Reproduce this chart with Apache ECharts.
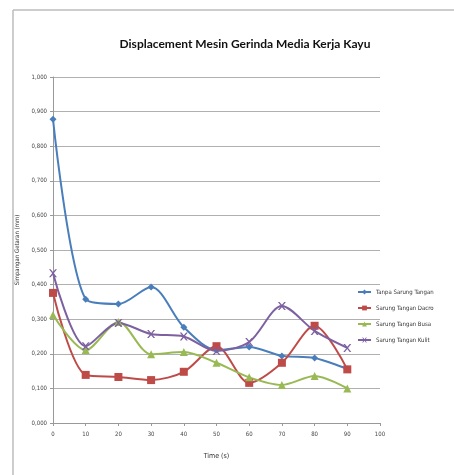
<!DOCTYPE html>
<html>
<head>
<meta charset="utf-8">
<script src="https://cdn.jsdelivr.net/npm/echarts@6/dist/echarts.min.js"></script>
<style>
  html, body { margin: 0; padding: 0; background: #fff; overflow: hidden; }
  #chart { width: 454px; height: 475px; }
</style>
</head>
<body>
<div id="chart"></div>
<script>
const timeSeconds = [0, 10, 20, 30, 40, 50, 60, 70, 80, 90];
const tanpaSarung = [0.878, 0.358, 0.344, 0.393, 0.277, 0.211, 0.220, 0.194, 0.188, 0.156];
const sarungDacron = [0.376, 0.139, 0.133, 0.124, 0.148, 0.222, 0.116, 0.174, 0.281, 0.155];
const sarungBusa = [0.312, 0.211, 0.292, 0.199, 0.205, 0.174, 0.132, 0.110, 0.136, 0.100];
const sarungKulit = [0.433, 0.222, 0.289, 0.257, 0.250, 0.208, 0.234, 0.338, 0.266, 0.217];
const seriesNames = ["Tanpa Sarung Tangan", "Sarung Tangan Dacro", "Sarung Tangan Busa", "Sarung Tangan Kulit"];

const chart = echarts.init(document.getElementById("chart"));
const xMark = "path://M0,0L2,0L5,3.5L8,0L10,0L6,5L10,10L8,10L5,6.5L2,10L0,10L4,5Z";
const font = "'Liberation Sans Narrow', 'DejaVu Sans Condensed', sans-serif";

function pairs(values) {
  return values.map((v, i) => [timeSeconds[i], v]);
}

function makeSeries(name, values, color, symbol, size) {
  return {
    name,
    type: "line",
    data: pairs(values),
    smooth: 0.3,
    symbol,
    symbolSize: size,
    showSymbol: true,
    lineStyle: { color, width: 2 },
    itemStyle: { color },
  };
}

// chart frame: only top and left edges are visible in the crop
const frameStyle = { stroke: "#bdbdbd", lineWidth: 1.5 };

const option = {
  animation: false,
  backgroundColor: "#fff",
  textStyle: { fontFamily: font },
  title: {
    text: "Displacement Mesin Gerinda Media Kerja Kayu",
    left: 240,
    textAlign: "center",
    top: 33,
    textStyle: { fontSize: 12, fontWeight: "bold", color: "#111", fontFamily: "Lato, sans-serif" },
  },
  graphic: [
    { type: "line", shape: { x1: 13, y1: 10, x2: 454, y2: 10 }, style: frameStyle, silent: true },
    { type: "line", shape: { x1: 13, y1: 10, x2: 13, y2: 475 }, style: frameStyle, silent: true },
  ],
  legend: {
    orient: "vertical",
    left: 352,
    top: 284,
    itemGap: 10,
    itemWidth: 13,
    itemHeight: 6,
    data: seriesNames,
    textStyle: { fontSize: 6, color: "#333", fontFamily: font },
  },
  grid: { left: 53, right: 74, top: 77, bottom: 52 },
  xAxis: {
    type: "value",
    min: 0,
    max: 100,
    interval: 10,
    name: "Time (s)",
    nameLocation: "middle",
    nameGap: 30,
    nameTextStyle: { fontSize: 7, color: "#333" },
    axisLine: { lineStyle: { color: "#999" } },
    axisTick: { show: true, length: 3, lineStyle: { color: "#999" } },
    axisLabel: { fontSize: 6, color: "#444", margin: 8 },
    splitLine: { show: false },
  },
  yAxis: {
    type: "value",
    min: 0,
    max: 1,
    interval: 0.1,
    name: "Simpangan Getaran (mm)",
    nameLocation: "middle",
    nameGap: 32,
    nameTextStyle: { fontSize: 6, color: "#333" },
    axisLine: { show: true, lineStyle: { color: "#999" } },
    axisTick: { show: true, length: 3, lineStyle: { color: "#999" } },
    axisLabel: {
      fontSize: 6,
      color: "#444",
      margin: 6,
      formatter: (v) => v.toFixed(3).replace(".", ","),
    },
    splitLine: { lineStyle: { color: "#b0b0b0", width: 1.2 } },
  },
  series: [
    makeSeries(seriesNames[0], tanpaSarung, "#4a7ebb", "diamond", 7),
    makeSeries(seriesNames[1], sarungDacron, "#be4b48", "rect", 8),
    makeSeries(seriesNames[2], sarungBusa, "#98b954", "triangle", 8),
    makeSeries(seriesNames[3], sarungKulit, "#7d60a0", xMark, 8),
  ],
};

chart.setOption(option);
</script>
</body>
</html>
